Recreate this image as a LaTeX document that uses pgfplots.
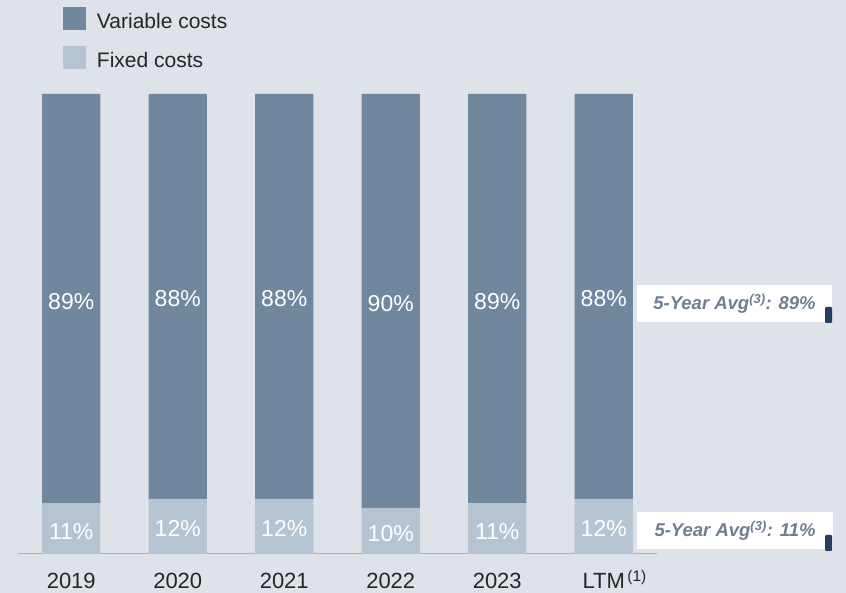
\documentclass[border=0pt]{standalone}
\usepackage{fontspec}
\setmainfont{Liberation Sans}
\usepackage{pgfplots}
\pgfplotsset{compat=1.18}
\definecolor{bg}{RGB}{222,226,233}
\definecolor{varc}{RGB}{112,135,158}
\definecolor{fixc}{RGB}{182,195,208}
\definecolor{avgtxt}{RGB}{112,126,145}
\definecolor{navy}{RGB}{38,62,96}
\definecolor{axline}{RGB}{170,180,192}
\begin{document}
\begin{tikzpicture}[x=1pt,y=1pt, lab/.style={text=white, yshift=-2.5pt, font=\fontsize{23}{27}\selectfont}]
\fill[bg] (0,0) rectangle (846,593);
\begin{axis}[
  at={(18pt,39pt)}, anchor=south west,
  scale only axis, width=639pt, height=460pt,
  xmin=-0.5, xmax=5.5, ymin=0, ymax=100,
  ybar stacked, bar width=58pt,
  axis y line=none, axis x line*=bottom,
  x axis line style={draw=axline, line width=1pt},
  xtick={0,1,2,3,4,5},
  xticklabels={2019,2020,2021,2022,2023,{LTM\rlap{\textsuperscript{\,(1)}}}},
  major tick length=0pt,
  xticklabel style={font=\fontsize{22}{26}\selectfont, text=black!85, anchor=base, yshift=-35pt, inner sep=0pt},
  clip=false,
  reverse legend,
  legend style={at={(axis description cs:0.0704,1.189)}, anchor=north west,
    draw=none, fill=none, inner sep=0pt, outer sep=0pt,
    row sep=15.2pt, column sep=11pt,
    font=\fontsize{21}{25}\selectfont, text=black!85,
    nodes={inner sep=0pt}},
  legend cell align=left,
  legend image code/.code={\fill[#1] (0pt,-8pt) rectangle (23pt,15pt);},
]
\addplot[fill=fixc, draw=none] coordinates {(0,11) (1,12) (2,12) (3,10) (4,11) (5,12)};
\addplot[fill=varc, draw=none] coordinates {(0,89) (1,88) (2,88) (3,90) (4,89) (5,88)};
\legend{Fixed costs, Variable costs}
\coordinate (v0) at (axis cs:0,55.5);
\coordinate (v1) at (axis cs:1,56);
\coordinate (v2) at (axis cs:2,56);
\coordinate (v3) at (axis cs:3,55);
\coordinate (v4) at (axis cs:4,55.5);
\coordinate (v5) at (axis cs:5,56);
\coordinate (f0) at (axis cs:0,5.5);
\coordinate (f1) at (axis cs:1,6);
\coordinate (f2) at (axis cs:2,6);
\coordinate (f3) at (axis cs:3,5);
\coordinate (f4) at (axis cs:4,5.5);
\coordinate (f5) at (axis cs:5,6);
\end{axis}
\node[lab] at (v0) {89\%};
\node[lab] at (v1) {88\%};
\node[lab] at (v2) {88\%};
\node[lab] at (v3) {90\%};
\node[lab] at (v4) {89\%};
\node[lab] at (v5) {88\%};
\node[lab] at (f0) {11\%};
\node[lab] at (f1) {12\%};
\node[lab] at (f2) {12\%};
\node[lab] at (f3) {10\%};
\node[lab] at (f4) {11\%};
\node[lab] at (f5) {12\%};
\fill[white] (637,271) rectangle (832,308);
\node[font=\fontsize{18.5}{22}\selectfont\bfseries\itshape, text=avgtxt] at (734.5,289) {5-Year Avg\textsuperscript{(3)}: 89\%};
\fill[navy, rounded corners=1pt] (825,270) rectangle (832,286);
\fill[white] (637,44) rectangle (833,81);
\node[font=\fontsize{18.5}{22}\selectfont\bfseries\itshape, text=avgtxt] at (735,62) {5-Year Avg\textsuperscript{(3)}: 11\%};
\fill[navy, rounded corners=1pt] (825,42) rectangle (832,58);
\end{tikzpicture}
\end{document}
